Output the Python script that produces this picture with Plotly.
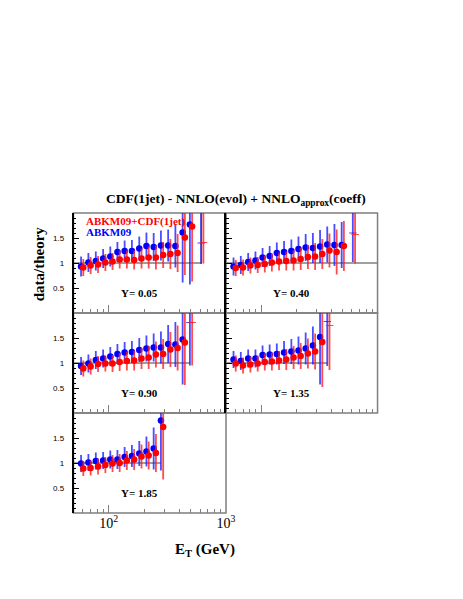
import numpy as np
import plotly.graph_objects as go
from plotly.subplots import make_subplots

# page is 463x599, the browser body keeps an 8px margin
PAGE_W, PAGE_H = 463, 599
OFF = 8
W, H = PAGE_W - 2 * OFF, PAGE_H - 2 * OFF

# ── Data ──────────────────────────────────────────────────────────────────────
ET = [58, 67, 77.5, 89.5, 103, 118.5, 136.5, 157.5, 182, 209.5,
      241.5, 278.5, 321, 370, 426.5, 492, 613.5]

PANEL_LABELS = ["Y= 0.05", "Y= 0.40", "Y= 0.90", "Y= 1.35", "Y= 1.85"]

# ABKM09 (blue): data/theory and errors, one list per rapidity bin
BLUE_Y = [
    [0.93, 1.01, 1.04, 1.09, 1.13, 1.22, 1.24, 1.24, 1.29, 1.34, 1.32, 1.35, 1.35, 1.34, 1.61, 1.77],
    [0.93, 0.96, 1.02, 1.05, 1.11, 1.14, 1.20, 1.22, 1.24, 1.28, 1.31, 1.30, 1.33, 1.37, 1.36, 1.36],
    [0.94, 0.99, 1.06, 1.09, 1.13, 1.18, 1.21, 1.22, 1.26, 1.29, 1.31, 1.31, 1.38, 1.37, 1.47],
    [1.07, 1.04, 1.09, 1.09, 1.16, 1.17, 1.18, 1.21, 1.23, 1.25, 1.29, 1.35, 1.52],
    [0.99, 1.01, 1.04, 1.05, 1.07, 1.07, 1.12, 1.14, 1.19, 1.23, 1.29, 1.85],
]
BLUE_E = [
    [0.20, 0.19, 0.19, 0.19, 0.20, 0.20, 0.21, 0.22, 0.24, 0.27, 0.28, 0.30, 0.32, 0.43, 1.00, 1.20],
    [0.18, 0.18, 0.18, 0.18, 0.19, 0.20, 0.21, 0.22, 0.23, 0.25, 0.27, 0.30, 0.33, 0.36, 0.42, 0.46],
    [0.18, 0.18, 0.18, 0.18, 0.19, 0.20, 0.21, 0.22, 0.24, 0.26, 0.28, 0.32, 0.38, 0.45, 0.90],
    [0.17, 0.18, 0.18, 0.18, 0.19, 0.20, 0.21, 0.23, 0.25, 0.28, 0.32, 0.38, 0.95],
    [0.17, 0.17, 0.17, 0.17, 0.18, 0.19, 0.20, 0.22, 0.25, 0.30, 0.42, 1.00],
]
# ABKM09+CDF(1jet) (red)
RED_Y = [
    [0.91, 0.95, 0.97, 1.01, 1.03, 1.07, 1.07, 1.06, 1.09, 1.11, 1.11, 1.16, 1.18, 1.20, 1.51, 1.73],
    [0.90, 0.91, 0.95, 0.96, 0.98, 1.01, 1.03, 1.04, 1.05, 1.08, 1.12, 1.13, 1.18, 1.25, 1.22, 1.34],
    [0.89, 0.93, 0.98, 0.99, 0.99, 1.02, 1.04, 1.05, 1.09, 1.11, 1.17, 1.18, 1.27, 1.30, 1.41],
    [0.99, 0.95, 0.97, 0.99, 1.02, 1.03, 1.05, 1.07, 1.11, 1.14, 1.19, 1.23, 1.42],
    [0.89, 0.90, 0.93, 0.96, 0.99, 1.00, 1.05, 1.07, 1.13, 1.15, 1.20, 1.72],
]
RED_E = [
    [0.17, 0.17, 0.17, 0.17, 0.17, 0.18, 0.18, 0.19, 0.20, 0.22, 0.24, 0.26, 0.30, 0.38, 0.75, 1.10],
    [0.16, 0.16, 0.16, 0.16, 0.17, 0.18, 0.18, 0.19, 0.20, 0.22, 0.24, 0.27, 0.30, 0.34, 0.45, 0.50],
    [0.16, 0.16, 0.16, 0.16, 0.17, 0.18, 0.19, 0.20, 0.21, 0.23, 0.26, 0.30, 0.35, 0.45, 0.85],
    [0.16, 0.16, 0.16, 0.16, 0.17, 0.18, 0.19, 0.21, 0.23, 0.26, 0.30, 0.36, 0.90],
    [0.15, 0.15, 0.16, 0.16, 0.17, 0.18, 0.19, 0.21, 0.24, 0.28, 0.38, 1.05],
]
# last bin drawn without marker (bin index, blue, red, lower error)
CROSS_BIN = [16, 16, 15, 13, None]
CROSS_BLUE = [1.40, 1.60, 1.81, 1.83, None]
CROSS_RED = [1.41, 1.57, 1.81, 1.75, None]
CROSS_ELOW = [0.42, 0.58, 0.86, 0.89, None]

# theory = 1 reference line end (GeV)
LINE_END = [613.5, 1000, 492, 370, 278.5]

# ── Style ─────────────────────────────────────────────────────────────────────
BLUE = "#0000FF"
RED = "#FF0000"
BLUE_BAR = "rgba(30,30,255,0.8)"
RED_BAR = "rgba(255,30,30,0.8)"
GREY = "#7f7f7f"
SERIF = "Liberation Serif"
SANS = "Liberation Sans"
RED_SHIFT = 1.045   # small horizontal offset of the red points

POS = [(1, 1), (1, 2), (2, 1), (2, 2), (3, 1)]


def px(x, y):
    """page pixel -> paper coords"""
    return (x - OFF) / W, 1 - (y - OFF) / H


fig = make_subplots(rows=3, cols=2, specs=[[{}, {}], [{}, {}], [{}, None]],
                    horizontal_spacing=0, vertical_spacing=0)

for p, (r, c) in enumerate(POS):
    n_b = len(BLUE_Y[p])
    n_r = len(RED_Y[p])
    # reference line at 1
    lx = [50, LINE_END[p]]
    ly = [1, 1]
    if p == 0:
        lx.append(LINE_END[p])
        ly.append(2.2)
    fig.add_trace(go.Scatter(x=lx, y=ly, mode="lines",
                             line=dict(color=GREY, width=1.5),
                             hoverinfo="skip", showlegend=False), row=r, col=c)
    # blue
    fig.add_trace(go.Scatter(
        x=ET[:n_b], y=BLUE_Y[p], mode="markers",
        marker=dict(color=BLUE, size=6.5),
        error_y=dict(type="data", array=BLUE_E[p], color=BLUE_BAR, thickness=1.8, width=0),
        showlegend=False, hoverinfo="skip"), row=r, col=c)
    # red
    fig.add_trace(go.Scatter(
        x=[e * RED_SHIFT for e in ET[:n_r]], y=RED_Y[p], mode="markers",
        marker=dict(color=RED, size=6.5),
        error_y=dict(type="data", array=RED_E[p], color=RED_BAR, thickness=1.8, width=0),
        showlegend=False, hoverinfo="skip"), row=r, col=c)
    # last-bin crosses
    if CROSS_BIN[p] is not None:
        b = CROSS_BIN[p]
        for val, col, shift in ((CROSS_BLUE[p], BLUE_BAR, 1.0), (CROSS_RED[p], RED_BAR, RED_SHIFT)):
            x0 = ET[b] * shift
            fig.add_trace(go.Scatter(
                x=[x0], y=[val], mode="markers",
                marker=dict(size=1, color="rgba(0,0,0,0)"),
                error_y=dict(type="data", array=[1.2], arrayminus=[CROSS_ELOW[p]],
                             color=col, thickness=1.8, width=0),
                error_x=dict(type="data", array=[x0 * 0.08], arrayminus=[x0 * 0.07],
                             color=col, thickness=1.2, width=0),
                showlegend=False, hoverinfo="skip"), row=r, col=c)

# ── Axes ──────────────────────────────────────────────────────────────────────
XL = [px(75, 0)[0], px(231, 0)[0]]
XR = [px(231, 0)[0], px(386, 0)[0]]
ROWS = [[px(0, 313)[1], px(0, 213)[1]],
        [px(0, 413)[1], px(0, 313)[1]],
        [px(0, 513)[1], px(0, 413)[1]]]

minor_x = [50, 60, 70, 80, 90, 200, 300, 400, 500, 600, 700, 800, 900]
minor_y = [round(0.1 * i, 1) for i in range(1, 20) if i % 5]

for idx, (r, c) in enumerate(POS):
    sfx = "" if idx == 0 else str(idx + 1)
    bottom = (r, c) == (3, 1)
    fig.layout["xaxis" + sfx].update(
        type="log", range=[np.log10(50), 3], domain=XL if c == 1 else XR,
        tickvals=[100, 1000], ticktext=["10<sup>2</sup>", "10<sup>3</sup>"],
        showticklabels=bottom, ticks="inside", ticklen=8, tickwidth=1.2, tickcolor=GREY,
        minor=dict(tickvals=minor_x, ticks="inside", ticklen=4, tickwidth=1.2, tickcolor=GREY),
        showgrid=False, zeroline=False, showline=False,
        tickfont=dict(family=SERIF, size=14, color="black"))
    fig.layout["yaxis" + sfx].update(
        range=[0, 2], domain=ROWS[r - 1],
        tickvals=[0.5, 1, 1.5], ticktext=["0.5", "1", "1.5"],
        showticklabels=(c == 1), ticks="inside", ticklen=6, tickwidth=1, tickcolor="black",
        minor=dict(tickvals=minor_y, ticks="inside", ticklen=3, tickwidth=1, tickcolor="black"),
        showgrid=False, zeroline=False, showline=True, linecolor="black", linewidth=1.5,
        ticklabelstandoff=6,
        tickfont=dict(family=SANS, size=8, color="black"))
    # frame
    fig.add_shape(type="rect", xref=f"x{sfx} domain", yref=f"y{sfx} domain",
                  x0=0, x1=1, y0=0, y1=1, line=dict(color=GREY, width=1.5), layer="below")
    # rapidity label
    fig.add_annotation(xref=f"x{sfx} domain", yref=f"y{sfx} domain", x=0.43, y=0.2,
                       xanchor="center", yanchor="middle",
                       text=f"<b>{PANEL_LABELS[idx]}</b>", showarrow=False,
                       font=dict(family=SERIF, size=11, color="black"))

# ── Texts ─────────────────────────────────────────────────────────────────────
def label(x, y, text, size, color="black", xanchor="center", angle=0):
    ax, ay = px(x, y)
    fig.add_annotation(xref="paper", yref="paper", x=ax, y=ay, xanchor=xanchor,
                       yanchor="middle", textangle=angle, showarrow=False, text=text,
                       font=dict(family=SERIF, size=size, color=color))


label(241, 199, "<b>CDF(1jet) - NNLO(evol) + NNLO<sub>approx</sub>(coeff)</b>", 13.5)
label(86, 221, "<b>ABKM09+CDF(1jet)</b>", 11, RED, xanchor="left")
label(86, 232, "<b>ABKM09</b>", 11, BLUE, xanchor="left")
label(40, 264, "<b>data/theory</b>", 15, angle=-90)
label(209, 550, "<b>E<sub>T</sub> (GeV)</b>", 15)

fig.update_layout(width=W, height=H, margin=dict(l=0, r=0, t=0, b=0),
                  paper_bgcolor="white", plot_bgcolor="white", showlegend=False)

fig.write_html("out.html")
